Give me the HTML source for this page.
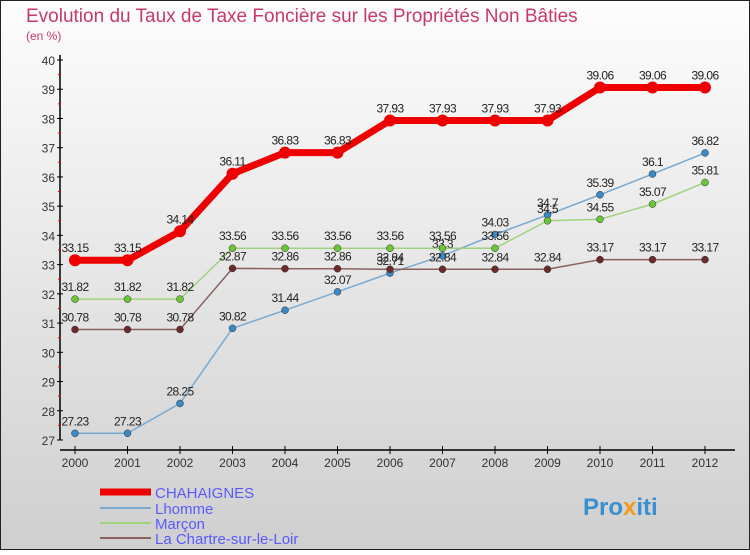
<!DOCTYPE html>
<html><head><meta charset="utf-8"><style>
body{margin:0;width:750px;height:550px;overflow:hidden;font-family:"Liberation Sans",sans-serif}
</style></head><body>
<svg id="c" width="750" height="550" xmlns="http://www.w3.org/2000/svg">
<defs><linearGradient id="bg" x1="0" y1="0" x2="0" y2="1"><stop offset="0" stop-color="#fdfdfd"/><stop offset="1" stop-color="#cfcfcf"/></linearGradient></defs>
<rect x="0.5" y="0.5" width="749" height="549" fill="url(#bg)" stroke="#222"/>
<text x="26" y="22" font-size="19" fill="#c8396a">Evolution du Taux de Taxe Foncière sur les Propriétés Non Bâties</text>
<text x="26" y="40" font-size="12" fill="#c8396a">(en %)</text>
<g id="axes"></g><g id="series"></g>
<g>
<line x1="100" y1="492" x2="151" y2="492" stroke="#e00" stroke-width="7"/>
<text x="155" y="498" font-size="15" fill="#5a5aff">CHAHAIGNES</text>
<line x1="100" y1="508" x2="151" y2="508" stroke="#79a9cf" stroke-width="2"/>
<text x="155" y="514" font-size="15" fill="#5a5aff">Lhomme</text>
<line x1="100" y1="523" x2="151" y2="523" stroke="#9ed37c" stroke-width="2"/>
<text x="155" y="529" font-size="15" fill="#5a5aff">Marçon</text>
<line x1="100" y1="538" x2="151" y2="538" stroke="#8b6060" stroke-width="2"/>
<text x="155" y="544" font-size="15" fill="#5a5aff">La Chartre-sur-le-Loir</text>
</g>
<text x="583" y="515" font-size="24" font-weight="bold" fill="#3a8fd0">Pro<tspan fill="#f29a1a">x</tspan>iti</text>
</svg>
<script>
const years=[2000,2001,2002,2003,2004,2005,2006,2007,2008,2009,2010,2011,2012];
const yTicks=[27,28,29,30,31,32,33,34,35,36,37,38,39,40];
const chahaignes=[33.15,33.15,34.14,36.11,36.83,36.83,37.93,37.93,37.93,37.93,39.06,39.06,39.06];
const lhomme=[27.23,27.23,28.25,30.82,31.44,32.07,32.71,33.3,34.03,34.7,35.39,36.1,36.82];
const marcon=[31.82,31.82,31.82,33.56,33.56,33.56,33.56,33.56,33.56,34.5,34.55,35.07,35.81];
const chartre=[30.78,30.78,30.78,32.87,32.86,32.86,32.84,32.84,32.84,32.84,33.17,33.17,33.17];
const NS="http://www.w3.org/2000/svg";
const xS=i=>75+i*52.5, yS=v=>440-(v-27)*(380/13);
function mk(t,a,p){const e=document.createElementNS(NS,t);for(const k in a)e.setAttribute(k,a[k]);p.appendChild(e);return e;}
const ax=document.getElementById('axes');
const yl=mk('line',{x1:60,y1:55,x2:60,y2:440,stroke:'#000','stroke-width':1.5},ax);


const xl=mk('line',{x1:60,y1:450,x2:735,y2:450,stroke:'#000','stroke-width':1.5},ax);


yTicks.forEach(v=>{
 mk('line',{x1:57,y1:yS(v),x2:63,y2:yS(v),stroke:'#000'},ax);
 if(v<40)mk('line',{x1:58,y1:yS(v+0.5),x2:61,y2:yS(v+0.5),stroke:'#e00'},ax);
 const t=mk('text',{x:55,y:yS(v)+5,'font-size':12,fill:'#333','text-anchor':'end'},ax);t.textContent=v;
 
 
});
years.forEach((y,i)=>{
 mk('line',{x1:xS(i),y1:446,x2:xS(i),y2:454,stroke:'#000'},ax);
 const t=mk('text',{x:xS(i),y:467,'font-size':12,fill:'#333','text-anchor':'middle'},ax);t.textContent=y;
 
 
});
const sg=document.getElementById('series');
function draw(vals,col,dot,w,r,name){
 const g=mk('g',{},sg);
 
 
 const pl=mk('polyline',{points:vals.map((v,i)=>xS(i)+','+yS(v)).join(' '),fill:'none',stroke:col,'stroke-width':w},g);
 
 
 vals.forEach((v,i)=>{
  const c=mk('circle',{cx:xS(i),cy:yS(v),r:r,fill:dot,stroke:w>3?'none':'#333','stroke-width':0.5},g);
  
  
  const t=mk('text',{x:xS(i),y:yS(v)-8,'font-size':12,fill:'#222','text-anchor':'middle','letter-spacing':'-0.6'},g);t.textContent=v;
  
  
 });
}
draw(lhomme,'#79a9cf','#3a88c4',1.5,3.5,'lhomme');
draw(marcon,'#9ed37c','#6cc43a',1.5,3.5,'marcon');
draw(chartre,'#8b6060','#6b2a2a',1.5,3.5,'chartre');
draw(chahaignes,'#e00','#e00',7,6,'chahaignes');
</script>
</body></html>
